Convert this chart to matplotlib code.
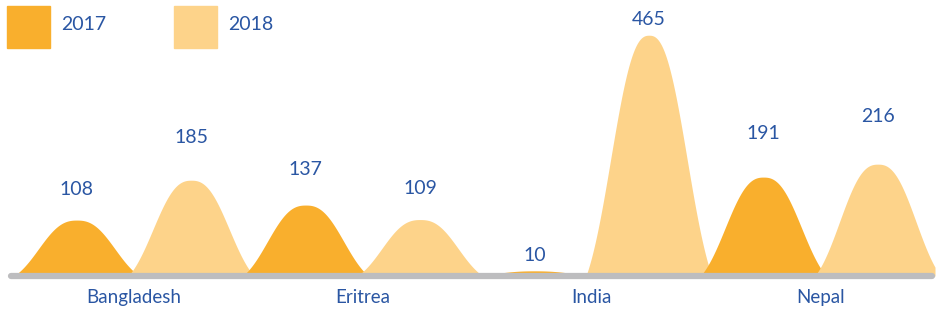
import numpy as np
import matplotlib.pyplot as plt
from matplotlib.patches import Rectangle

countries = ["Bangladesh", "Eritrea", "India", "Nepal"]
years = ["2017", "2018"]
values_2017 = [108, 137, 10, 191]
values_2018 = [185, 109, 465, 216]

C2017 = "#F9AF2D"
C2018 = "#FDD38A"
BLUE = "#2A56A3"
plt.rcParams["font.family"] = ["Lato", "DejaVu Sans"]

fig = plt.figure(figsize=(9.39, 3.13), dpi=100)
ax = fig.add_axes([8 / 939, 37 / 313, 927 / 939, 276 / 313])

def bell(x, c, h, s=0.41, p=2.5, half=0.55):
    t = x - c
    y = np.exp(-np.abs(t / s) ** p)
    edge = np.exp(-(half / s) ** p)
    y = np.clip((y - edge) / (1 - edge), 0, None)
    y[np.abs(t) > half] = 0
    return h * y

x = np.linspace(-0.6, 7.5, 3000)
for i in range(len(countries)):
    for j, (vals, col) in enumerate([(values_2017, C2017), (values_2018, C2018)]):
        c = 2 * i + j
        v = vals[i]
        ax.fill_between(x, 0, bell(x, c, v), color=col, lw=0, zorder=2)
        ly = min(v * 1.3 + 27, 496)
        ax.text(c, ly, str(v), ha="center", va="center", color=BLUE, fontsize=14)
    ax.text(2 * i + 0.5, -42, countries[i], ha="center", va="center",
            color=BLUE, fontsize=13.5, clip_on=False)

ax.plot([-0.57, 7.47], [0, 0], color="#BDBDBF", lw=4.5, solid_capstyle="round",
        zorder=3, clip_on=False)

ax.set_xlim(-0.6, 7.5)
ax.set_ylim(0, 533)
ax.axis("off")

# legend
for k, (lab, col) in enumerate(zip(years, [C2017, C2018])):
    x0 = 7 + k * 167
    fig.patches.append(Rectangle((x0 / 939, 1 - 48 / 313), 43 / 939, 42 / 313,
                                 transform=fig.transFigure, color=col))
    fig.text((x0 + 54) / 939, 1 - 24 / 313, lab, ha="left", va="center",
             color=BLUE, fontsize=14)

fig.savefig("out.png", dpi=100)
